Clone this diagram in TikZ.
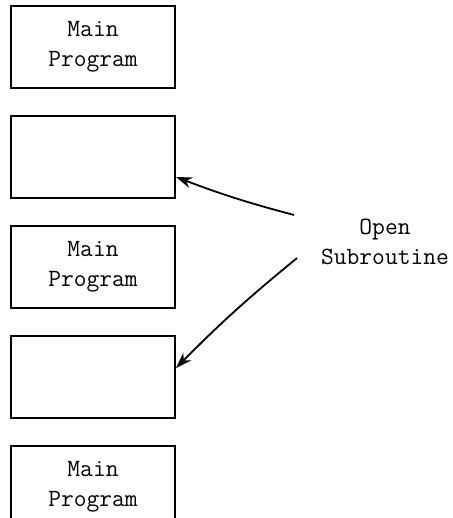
\documentclass[tikz,border=0pt]{standalone}
\usepackage{tikz}
\usetikzlibrary{arrows.meta,positioning}

\tikzset{
	progbox/.style={draw,line width=1pt,minimum width=82pt,minimum height=41pt,
		align=center,font=\fontsize{12.4}{15}\selectfont\ttfamily},
	lbl/.style={align=center,font=\fontsize{12.4}{15}\selectfont\ttfamily},
	pointer/.style={-{Stealth[length=8pt,width=5.5pt]},line width=0.9pt}
}

\begin{document}
\begin{tikzpicture}[node distance=13pt]
		\useasboundingbox (0,0) rectangle (226.5pt,-259pt);
		% the program as stored: main parts with the subroutine copied in
		\node[progbox] (main1) at (46.5pt,-23.5pt) {Main\\Program};
		\node[progbox,below=of main1] (sub1) {};
		\node[progbox,below=of sub1] (main2) {Main\\Program};
		\node[progbox,below=of main2] (sub2) {};
		\node[progbox,below=of sub2] (main3) {Main\\Program};
		% label and arrows
		\node[lbl] (open) at (192.5pt,-121pt) {Open\\Subroutine};
		\coordinate (from1) at ([xshift=-10pt,yshift=13.5pt]open.west);
		\coordinate (from2) at ([xshift=-8.5pt,yshift=-8pt]open.west);
		\draw[pointer] (from1) to[bend left=3] ([yshift=-10pt]sub1.east);
		\draw[pointer] (from2) to[bend right=3] ([yshift=4.5pt]sub2.east);
\end{tikzpicture}
\end{document}
